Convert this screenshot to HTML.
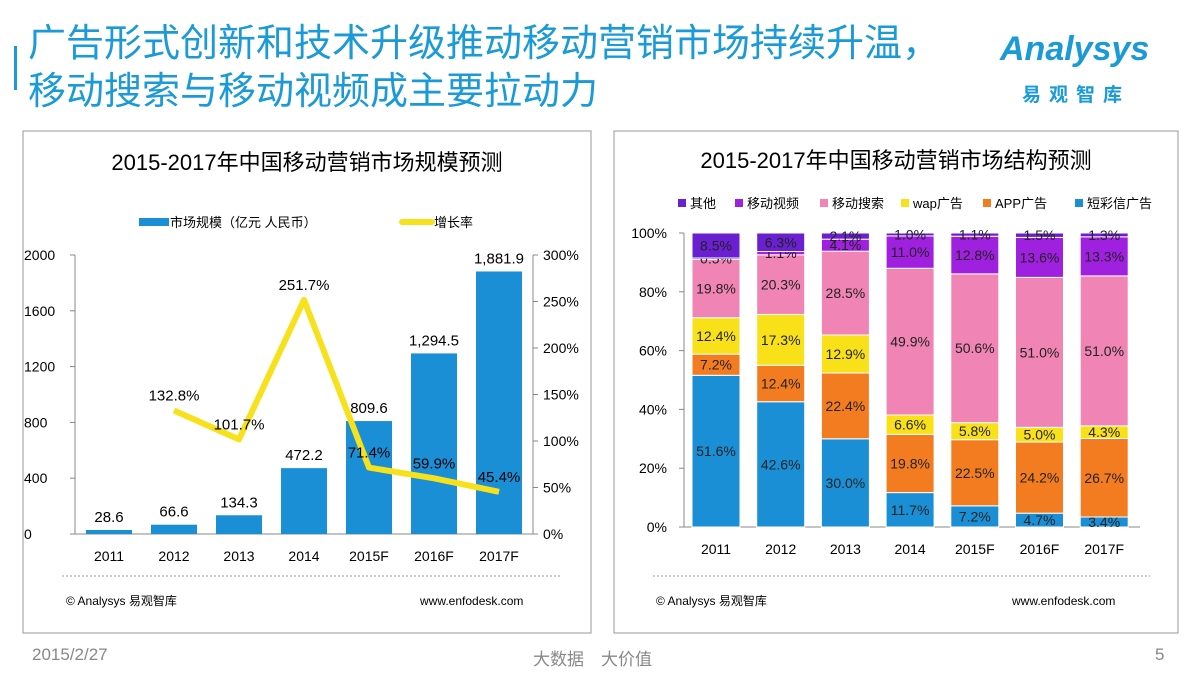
<!DOCTYPE html>
<html><head><meta charset="utf-8"><style>
body{margin:0;width:1200px;height:675px;background:#fff;overflow:hidden;font-family:"Liberation Sans","Noto Sans CJK SC",sans-serif;position:relative}
.t{position:absolute;white-space:nowrap}
svg text{font-family:"Liberation Sans","Noto Sans CJK SC",sans-serif}
</style></head><body>
<div class="t" style="left:14px;top:46px;width:3px;height:44px;background:#1a9ad6"></div>
<div class="t" style="left:28px;top:20px;font-size:38px;line-height:48px;color:#1a9ad6">广告形式创新和技术升级推动移动营销市场持续升温，<br>移动搜索与移动视频成主要拉动力</div>
<div class="t" style="left:1000px;top:30px;color:#1a9ad6;font-size:34px;font-style:italic;font-weight:bold">Analysys</div>
<div class="t" style="left:1022px;top:80px;color:#1a9ad6;font-size:19px;font-weight:bold;letter-spacing:8px">易观智库</div>
<div class="t" style="left:32px;top:645px;font-size:17px;color:#888">2015/2/27</div>
<div class="t" style="left:533px;top:645px;font-size:17px;color:#888">大数据　大价值</div>
<div class="t" style="left:1155px;top:645px;font-size:17px;color:#888">5</div>

<svg width="1200" height="675" style="position:absolute;left:0;top:0" id="svg">
<rect x="23" y="131" width="568" height="502" fill="none" stroke="#999"/>
<rect x="614" y="131" width="564" height="502" fill="none" stroke="#999"/>
<text x="307" y="170" font-size="22" text-anchor="middle">2015-2017年中国移动营销市场规模预测</text>
<text x="896" y="168" font-size="22" text-anchor="middle">2015-2017年中国移动营销市场结构预测</text>
<rect x="139" y="218" width="30" height="8" fill="#1a8fd6"/>
<text x="170" y="227" font-size="13">市场规模（亿元 人民币）</text>
<line x1="402" y1="222" x2="432" y2="222" stroke="#f7e11a" stroke-width="6" stroke-linecap="round"/>
<text x="434" y="227" font-size="13">增长率</text>
<line x1="62" y1="576" x2="560" y2="576" stroke="#999" stroke-dasharray="2,2"/>
<text x="66" y="605" font-size="12">© Analysys 易观智库</text>
<text x="420" y="605" font-size="12">www.enfodesk.com</text>
<line x1="653" y1="576" x2="1150" y2="576" stroke="#999" stroke-dasharray="2,2"/>
<text x="656" y="605" font-size="12">© Analysys 易观智库</text>
<text x="1012" y="605" font-size="12">www.enfodesk.com</text>
<g id="left"></g><g id="right"></g>
</svg>
<script>
const years=["2011","2012","2013","2014","2015F","2016F","2017F"];
const marketSize=[28.6,66.6,134.3,472.2,809.6,1294.5,1881.9];
const sizeLabels=["28.6","66.6","134.3","472.2","809.6","1,294.5","1,881.9"];
const growth=[null,132.8,101.7,251.7,71.4,59.9,45.4];
const leftTicks=[0,400,800,1200,1600,2000];
const rightTicks=[0,50,100,150,200,250,300];
const seriesNames=["短彩信广告","APP广告","wap广告","移动搜索","移动视频","其他"];
const sms=[51.6,42.6,30.0,11.7,7.2,4.7,3.4];
const app=[7.2,12.4,22.4,19.8,22.5,24.2,26.7];
const wap=[12.4,17.3,12.9,6.6,5.8,5.0,4.3];
const search=[19.8,20.3,28.5,49.9,50.6,51.0,51.0];
const video=[0.5,1.1,4.1,11.0,12.8,13.6,13.3];
const other=[8.5,6.3,2.1,1.0,1.1,1.5,1.3];
const pctTicks=[0,20,40,60,80,100];
const NS="http://www.w3.org/2000/svg";
function mk(p,tag,a,txt){const e=document.createElementNS(NS,tag);for(const k in a)e.setAttribute(k,a[k]);if(txt!=null)e.textContent=txt;p.appendChild(e);return e;}
const L=document.getElementById('left');
const y0=534,yTop=255;
const ys=v=>y0-v/2000*(y0-yTop), yg=v=>y0-v/300*(y0-yTop), xl=i=>109+i*65;
let e=mk(L,'line',{x1:75,y1:yTop,x2:75,y2:y0,stroke:'#888'});

e=mk(L,'line',{x1:533,y1:yTop,x2:533,y2:y0,stroke:'#888'});

e=mk(L,'line',{x1:75,y1:y0,x2:533,y2:y0,stroke:'#888'});

leftTicks.forEach(t=>{mk(L,'line',{x1:70,y1:ys(t),x2:75,y2:ys(t),stroke:'#888'});
 e=mk(L,'text',{x:24,y:ys(t)+5,'font-size':14},String(t));
 });
rightTicks.forEach(t=>{mk(L,'line',{x1:533,y1:yg(t),x2:538,y2:yg(t),stroke:'#888'});
 e=mk(L,'text',{x:543,y:yg(t)+5,'font-size':14},t+'%');
 });
years.forEach((y,i)=>{
 e=mk(L,'rect',{x:xl(i)-23,y:ys(marketSize[i]),width:46,height:y0-ys(marketSize[i]),fill:'#1a8fd6'});
 
 e=mk(L,'text',{x:xl(i),y:ys(marketSize[i])-8,'font-size':15,'text-anchor':'middle'},sizeLabels[i]);
 
 e=mk(L,'text',{x:xl(i),y:561,'font-size':14,'text-anchor':'middle'},y);
 
});
let pts=[];growth.forEach((g,i)=>{if(g!=null)pts.push(xl(i)+','+yg(g));});
e=mk(L,'polyline',{points:pts.join(' '),fill:'none',stroke:'#f7e11a','stroke-width':6,'stroke-linejoin':'round'});

growth.forEach((g,i)=>{if(g==null)return;
 e=mk(L,'text',{x:xl(i),y:yg(g)-10,'font-size':15,'text-anchor':'middle'},g.toFixed(1)+'%');
 });
const R=document.getElementById('right');
const r0=527,rTop=233,yp=v=>r0-v/100*(r0-rTop),xr=i=>716+i*64.7;
e=mk(R,'line',{x1:684,y1:rTop,x2:684,y2:r0,stroke:'#888'});

e=mk(R,'line',{x1:684,y1:r0,x2:1140,y2:r0,stroke:'#888'});

pctTicks.forEach(t=>{mk(R,'line',{x1:679,y1:yp(t),x2:684,y2:yp(t),stroke:'#888'});
 e=mk(R,'text',{x:667,y:yp(t)+5,'font-size':14,'text-anchor':'end'},t+'%');
 });
const stacks=[sms,app,wap,search,video,other];
const colors=['#1a8fd6','#f47c20','#f9e11a','#f084b4','#a020e0','#6a1fd0'];
const legendOrder=[5,4,3,2,1,0];
legendOrder.forEach((s,k)=>{
 const lx=[678,735,820,901,983,1075][k];
 e=mk(R,'rect',{x:lx,y:199,width:8,height:8,fill:colors[s]});
 
 e=mk(R,'text',{x:lx+12,y:208,'font-size':13},seriesNames[s]);
 
});
years.forEach((y,i)=>{
 let acc=0;
 stacks.forEach((arr,s)=>{
  const v=arr[i];const top=yp(acc+v),bot=yp(acc);
  e=mk(R,'rect',{x:xr(i)-24,y:top,width:48,height:bot-top,fill:colors[s],stroke:'#fff','stroke-width':1});
  
  e=mk(R,'text',{x:xr(i),y:(top+bot)/2+5,'font-size':14,'text-anchor':'middle',fill:'#222'},v.toFixed(1)+'%');
  
  acc+=v;
 });
 e=mk(R,'text',{x:xr(i),y:554,'font-size':14,'text-anchor':'middle'},y);
 
});
</script>
</body></html>
